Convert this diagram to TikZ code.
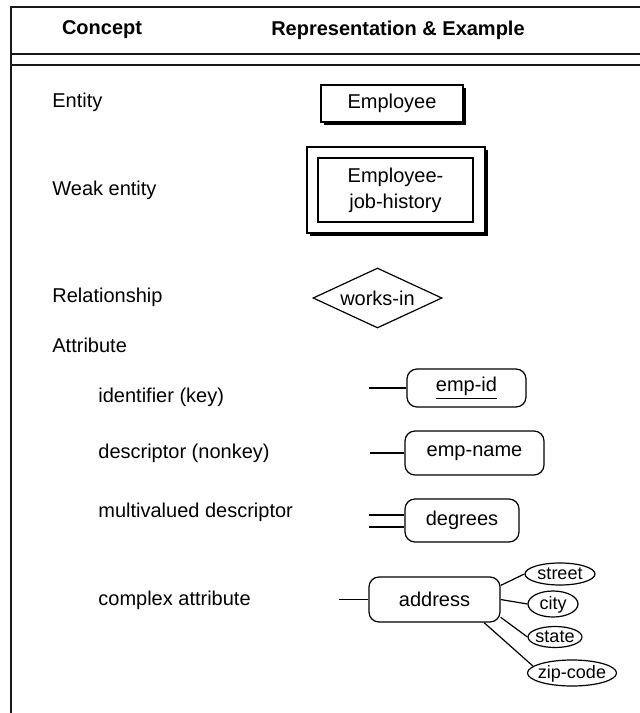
\documentclass[tikz,border=0pt]{standalone}
\usepackage{fontspec}
\setmainfont{Liberation Sans}
\usetikzlibrary{shapes.geometric,shadows}
\begin{document}
\begin{tikzpicture}[x=0.5pt,y=-0.5pt,
  lbl/.style={anchor=west,font=\fontsize{10}{12}\selectfont,inner sep=0},
  head/.style={font=\fontsize{10}{12}\selectfont\bfseries,inner sep=0},
  frameline/.style={line width=0.9pt,draw=black!90},
  ent/.style={draw,line width=0.7pt,fill=white,inner sep=0,align=center,
    font=\fontsize{10}{13}\selectfont,
    drop shadow={shadow xshift=1.5pt,shadow yshift=-1.5pt,opacity=1,fill=black}},
  plainbox/.style={draw,line width=0.6pt,inner sep=0,align=center,font=\fontsize{10}{13}\selectfont},
  rel/.style={diamond,draw,line width=0.6pt,inner sep=0,aspect=2.15,font=\fontsize{10}{12}\selectfont},
  attr/.style={draw,line width=0.6pt,rounded corners=5pt,inner sep=0,font=\fontsize{10}{12}\selectfont},
  sub/.style={ellipse,draw,line width=0.6pt,inner sep=0,text height=5pt,text depth=0pt,font=\fontsize{9}{11}\selectfont},
  conn/.style={line width=0.6pt}
]
\useasboundingbox (0,0) rectangle (640,713);
% frame
\coordinate (tl) at (11,7);
\coordinate (tr) at (640,7);
\coordinate (bl) at (11,713);
\draw[frameline] (tr) -- (tl) -- (bl);
\draw[frameline] (11,54) -- (640,54);
\draw[frameline] (11,65) -- (640,65);
% headings
\node[head] (h1) at (102,30) {Concept};
\node[head] (h2) at (398,30) {Representation \& Example};
% labels
\node[lbl] (l1) at (52,102) {Entity};
\node[lbl] (l2) at (52,190) {Weak entity};
\node[lbl] (l3) at (52,297) {Relationship};
\node[lbl] (l4) at (52,345) {Attribute};
\node[lbl] (l5) at (98,397) {identifier (key)};
\node[lbl] (l6) at (98,453) {descriptor (nonkey)};
\node[lbl] (l7) at (98,512) {multivalued descriptor};
\node[lbl] (l8) at (98,600) {complex attribute};
% entity
\node[ent,minimum width=71pt,minimum height=18.5pt] (emp) at (392,103.5) {Employee};
% weak entity
\node[ent,minimum width=89pt,minimum height=43pt] (wkout) at (396,190) {};
\node[plainbox,minimum width=77.5pt,minimum height=32pt] (wkin) at (395.5,190) {Employee-\\job-history};
% relationship
\node[rel,minimum width=64.5pt,minimum height=30pt] (works) at (377.5,298) {works-in};
% attributes
\node[attr,minimum width=59.5pt,minimum height=19pt] (empid) at (466.5,388) {\underline{emp-id}};
\coordinate (c1) at (369,388);
\draw[conn] (c1) -- (empid.west);
\node[attr,minimum width=69.5pt,minimum height=22pt] (empname) at (474.5,453) {emp-name};
\coordinate (c2) at (370,453);
\draw[conn] (c2) -- (empname.west);
\node[attr,minimum width=57pt,minimum height=21.5pt] (deg) at (462,520.5) {degrees};
\coordinate (c3a) at (369,515);
\coordinate (c3b) at (369,527);
\draw[conn] (c3a) -- (c3a -| deg.west);
\draw[conn] (c3b) -- (c3b -| deg.west);
\node[attr,minimum width=65.5pt,minimum height=22.5pt] (addr) at (434.5,599.5) {address};
\coordinate (c4) at (339,599.5);
\draw[conn] (c4) -- (addr.west);
\node[sub,minimum width=35pt,minimum height=11pt] (street) at (560,574) {\makebox[0pt]{street}};
\node[sub,minimum width=25pt,minimum height=13pt] (city) at (553,604) {\makebox[0pt]{city}};
\node[sub,minimum width=27pt,minimum height=10.5pt] (state) at (555,637) {\makebox[0pt]{state}};
\node[sub,minimum width=44.5pt,minimum height=13pt] (zip) at (572,673) {\makebox[0pt]{zip-code}};
\draw[conn] (addr.12) -- (street.west);
\draw[conn] (addr.east) -- (city.west);
\draw[conn] (addr.-15) -- (state.west);
\draw[conn] (addr.-25) -- (zip.170);
\end{tikzpicture}
\end{document}
